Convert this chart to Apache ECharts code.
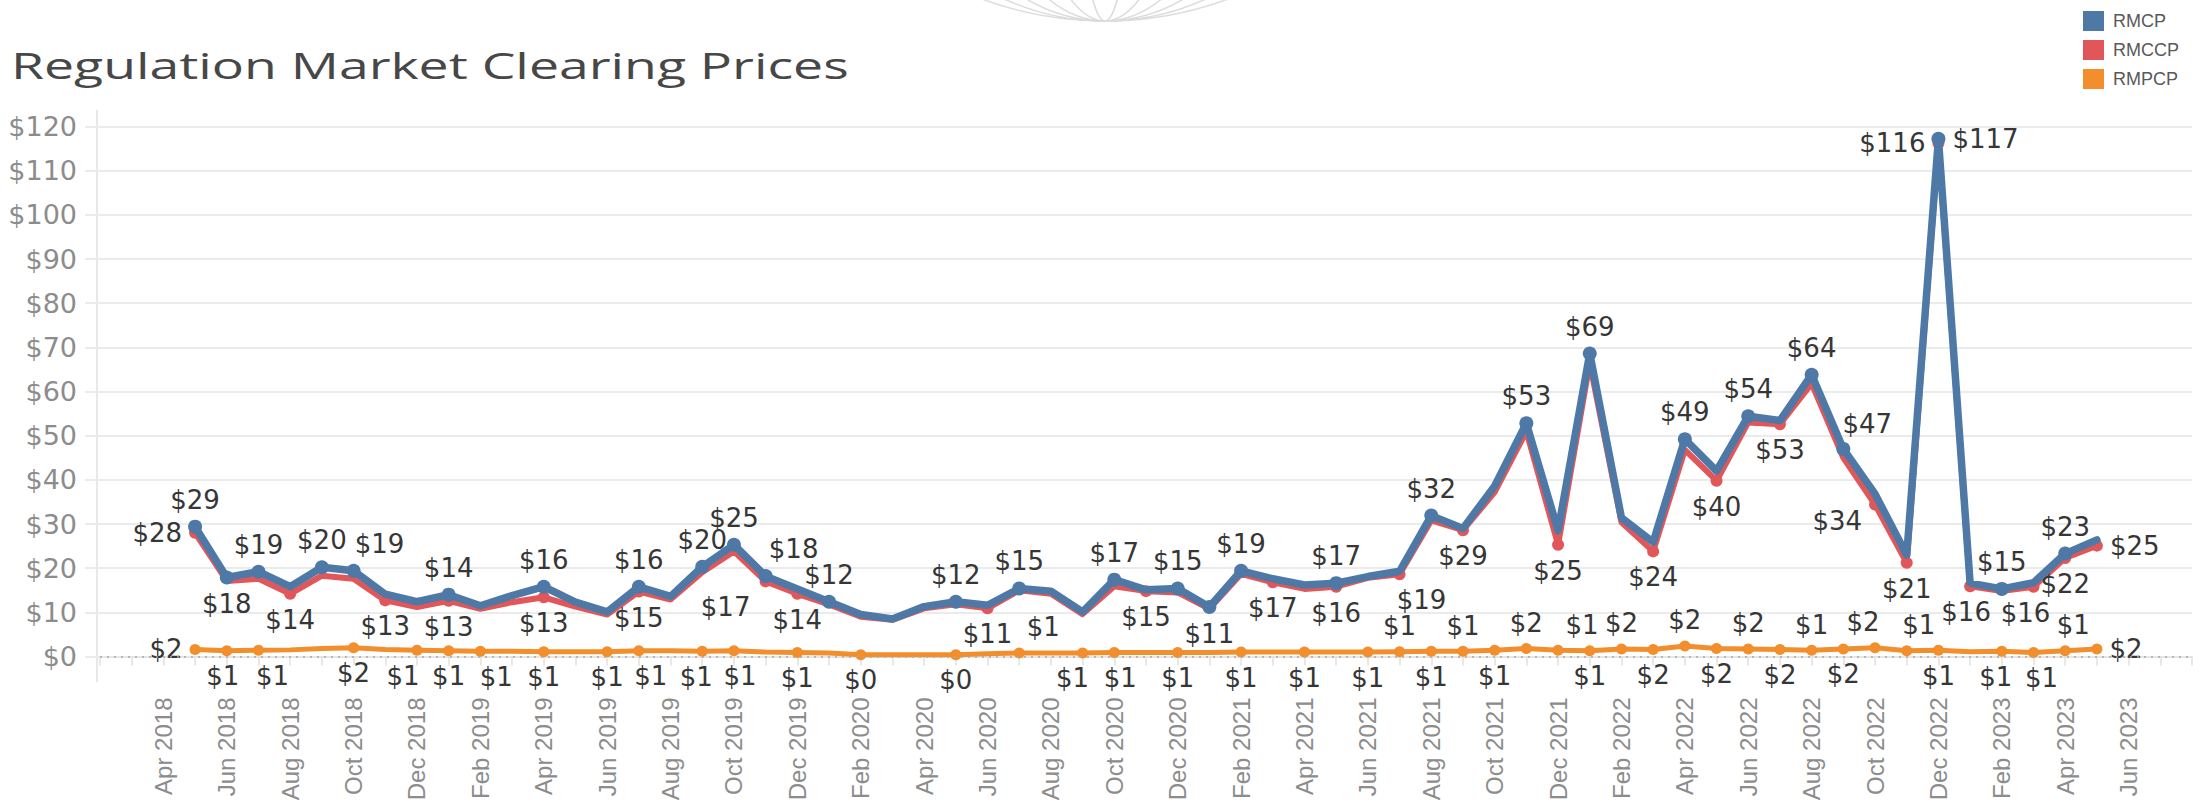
<!DOCTYPE html>
<html>
<head>
<meta charset="utf-8">
<script src="https://cdn.jsdelivr.net/npm/echarts@6.0.0/dist/echarts.min.js"></script>
<style>
html,body{margin:0;padding:0;background:#fff;}
#c{width:2208px;height:805px;}
</style>
</head>
<body>
<div id="c"></div>
<script>
// ---------- DATA ----------
const titleText = 'Regulation Market Clearing Prices';
const seriesNames = ['RMCP', 'RMCCP', 'RMPCP'];

// axis months (continuous monthly axis)
const axisMonths = [
  'Feb 2018','Mar 2018','Apr 2018','May 2018','Jun 2018','Jul 2018','Aug 2018','Sep 2018','Oct 2018','Nov 2018','Dec 2018',
  'Jan 2019','Feb 2019','Mar 2019','Apr 2019','May 2019','Jun 2019','Jul 2019','Aug 2019','Sep 2019','Oct 2019','Nov 2019','Dec 2019',
  'Jan 2020','Feb 2020','Mar 2020','Apr 2020','May 2020','Jun 2020','Jul 2020','Aug 2020','Sep 2020','Oct 2020','Nov 2020','Dec 2020',
  'Jan 2021','Feb 2021','Mar 2021','Apr 2021','May 2021','Jun 2021','Jul 2021','Aug 2021','Sep 2021','Oct 2021','Nov 2021','Dec 2021',
  'Jan 2022','Feb 2022','Mar 2022','Apr 2022','May 2022','Jun 2022','Jul 2022','Aug 2022','Sep 2022','Oct 2022','Nov 2022','Dec 2022',
  'Jan 2023','Feb 2023','Mar 2023','Apr 2023','May 2023','Jun 2023','Jul 2023','Aug 2023'
];
// tick labels shown on the x axis
const xTickLabels = [
  'Apr 2018','Jun 2018','Aug 2018','Oct 2018','Dec 2018','Feb 2019','Apr 2019','Jun 2019','Aug 2019','Oct 2019','Dec 2019',
  'Feb 2020','Apr 2020','Jun 2020','Aug 2020','Oct 2020','Dec 2020','Feb 2021','Apr 2021','Jun 2021','Aug 2021','Oct 2021','Dec 2021',
  'Feb 2022','Apr 2022','Jun 2022','Aug 2022','Oct 2022','Dec 2022','Feb 2023','Apr 2023','Jun 2023'
];
// first month of the data (values run monthly May 2018 .. May 2023)
const dataStart = 'May 2018';

const rmcp = [
  29.4, 17.9, 19.2, 15.8, 20.2, 19.4, 14.1, 12.4,
  14.0, 11.5, 13.8, 15.8, 12.3, 10.1, 15.8, 13.6, 20.3, 25.3, 18.2, 15.3,
  12.4, 9.5, 8.5, 11.3, 12.4, 11.6, 15.4, 14.8, 10.1, 17.4, 15.1, 15.4,
  11.2, 19.4, 17.6, 16.2, 16.6, 18.1, 19.3, 31.9, 29.0, 38.6, 52.8, 28.5,
  68.6, 31.4, 25.9, 49.2, 42.0, 54.4, 53.4, 63.8, 47.0, 36.8, 23.0, 117.2,
  16.6, 15.3, 16.7, 23.3, 26.4
];
const rmccp = [
  28.0, 17.1, 17.6, 14.2, 18.3, 17.6, 12.7, 11.2,
  12.6, 10.8, 12.3, 13.4, 11.3, 9.5, 14.7, 12.9, 19.1, 23.8, 17.0, 14.2,
  11.8, 9.0, 8.3, 10.9, 11.8, 10.9, 15.0, 14.2, 9.6, 15.9, 14.8, 14.5,
  10.8, 18.7, 16.8, 15.3, 15.8, 17.8, 18.6, 30.8, 28.6, 37.2, 51.0, 25.3,
  66.5, 30.4, 23.8, 46.8, 39.8, 53.0, 52.6, 61.8, 45.0, 34.4, 21.2, 116.2,
  15.9, 14.8, 15.8, 22.3, 25.1
];
const rmpcp = [
  1.6, 1.3, 1.4, 1.5, 1.8, 2.0, 1.6, 1.4,
  1.3, 1.2, 1.2, 1.1, 1.1, 1.1, 1.3, 1.3, 1.2, 1.3, 1.0, 0.9,
  0.8, 0.4, 0.4, 0.4, 0.4, 0.6, 0.8, 0.8, 0.8, 0.9, 0.9, 0.9,
  0.9, 1.0, 1.0, 1.0, 1.0, 1.0, 1.1, 1.2, 1.2, 1.4, 1.8, 1.4,
  1.3, 1.7, 1.6, 2.4, 1.8, 1.7, 1.6, 1.4, 1.7, 2.0, 1.3, 1.4,
  1.1, 1.2, 0.9, 1.3, 1.7
];

// ---------- LABEL PLACEMENT (style) ----------
const rmcpLabels = {
  'May 2018':'top','Jun 2018':'bottom','Jul 2018':'top','Sep 2018':'top','Oct 2018':'top',
  'Jan 2019':'top','Apr 2019':'top','Jul 2019':'top','Sep 2019':'top','Oct 2019':'top','Nov 2019':'top',
  'Jan 2020':'top','May 2020':'top','Jul 2020':'top','Oct 2020':'top','Dec 2020':'top',
  'Jan 2021':'bottom','Feb 2021':'top','May 2021':'top','Aug 2021':'top','Nov 2021':'top',
  'Jan 2022':'top','Apr 2022':'top','Jun 2022':'top','Aug 2022':'top','Sep 2022':'top',
  'Dec 2022':'right','Feb 2023':'top','Apr 2023':'top'
};
const rmccpLabels = {
  'May 2018':'left','Aug 2018':'bottom','Nov 2018':'bottom','Jan 2019':'bottom','Apr 2019':'bottom',
  'Jul 2019':'bottom','Nov 2019':'bottom','Dec 2019':'bottom','Jun 2020':'bottom','Nov 2020':'bottom',
  'Mar 2021':'bottom','May 2021':'bottom','Jul 2021':'bottom','Sep 2021':'bottom','Dec 2021':'bottom',
  'Mar 2022':'bottom','May 2022':'bottom','Jul 2022':'bottom','Oct 2022':'left','Nov 2022':'bottom',
  'Dec 2022':'left','Jan 2023':'bottom','Mar 2023':'bottom','Apr 2023':'bottom','May 2023':'right'
};
const rmpcpLabels = {
  'May 2018':'left','Jun 2018':'bottom','Jul 2018':'bottom','Oct 2018':'bottom','Dec 2018':'bottom',
  'Jan 2019':'bottom','Feb 2019':'bottom','Apr 2019':'bottom','Jun 2019':'bottom','Jul 2019':'bottom',
  'Sep 2019':'bottom','Oct 2019':'bottom','Dec 2019':'bottom',
  'Feb 2020':'bottom','May 2020':'bottom','Jul 2020':'top','Sep 2020':'bottom','Oct 2020':'bottom','Dec 2020':'bottom',
  'Feb 2021':'bottom','Apr 2021':'bottom','Jun 2021':'bottom','Jul 2021':'top','Aug 2021':'bottom','Sep 2021':'top',
  'Oct 2021':'bottom','Nov 2021':'top','Dec 2021':'top',
  'Jan 2022':'bottom','Feb 2022':'top','Mar 2022':'bottom','Apr 2022':'top','May 2022':'bottom','Jun 2022':'top',
  'Jul 2022':'bottom','Aug 2022':'top','Sep 2022':'bottom','Oct 2022':'top','Nov 2022':'top','Dec 2022':'bottom',
  'Feb 2023':'bottom','Mar 2023':'bottom','Apr 2023':'top','May 2023':'right'
};
const labelOffsets = {
  'RMCP|Oct 2018': [26, 0], 'RMCP|Nov 2019': [28, 0], 'RMCP|Sep 2022': [24, 2],
  'RMCCP|Nov 2019': [-40, 0], 'RMCCP|Jul 2021': [22, 0], 'RMCCP|Oct 2022': [0, 16],
  'RMCCP|Jan 2023': [-4, 0], 'RMCCP|Mar 2023': [-8, 0],
  'RMPCP|Jun 2018': [-4, 0], 'RMPCP|Jul 2018': [14, 0], 'RMPCP|Dec 2018': [-14, 0], 'RMPCP|Feb 2019': [16, 0],
  'RMPCP|Jul 2019': [12, 0], 'RMPCP|Sep 2019': [-6, 0], 'RMPCP|Oct 2019': [6, 0],
  'RMPCP|Jul 2020': [24, 0], 'RMPCP|Sep 2020': [-10, 0], 'RMPCP|Oct 2020': [6, 0],
  'RMPCP|Dec 2021': [24, 0], 'RMPCP|Oct 2022': [-12, 0], 'RMPCP|Nov 2022': [12, 0],
  'RMPCP|Feb 2023': [-6, 0], 'RMPCP|Mar 2023': [8, 0], 'RMPCP|Apr 2023': [8, 0]
};

// ---------- BUILD ----------
const startIdx = axisMonths.indexOf(dataStart);

function buildData(name, values, plan, symSize) {
  return axisMonths.map((m, i) => {
    const k = i - startIdx;
    if (k < 0 || k >= values.length) return null;
    const pos = plan[m];
    if (!pos) return { value: values[k], symbolSize: 0, label: { show: false } };
    const lab = { show: true, position: pos };
    const off = labelOffsets[name + '|' + m];
    if (off) lab.offset = off;
    return { value: values[k], symbolSize: symSize, label: lab };
  });
}

const labelFont = { fontFamily: 'DejaVu Sans', fontSize: 26, color: '#363636' };

function lineSeries(name, values, plan, color, width, symSize, z) {
  return {
    name: name,
    type: 'line',
    data: buildData(name, values, plan, symSize),
    z: z,
    symbol: 'circle',
    showSymbol: true,
    showAllSymbol: true,
    connectNulls: false,
    silent: true,
    lineStyle: { color: color, width: width, cap: 'round', join: 'round' },
    itemStyle: { color: color },
    label: Object.assign({ distance: 7, formatter: p => '$' + Math.round(p.value) }, labelFont),
    emphasis: { disabled: true }
  };
}

function textWidth(text, font) {
  const ctx = document.createElement('canvas').getContext('2d');
  ctx.font = font;
  return ctx.measureText(text).width;
}
const titleFont = '36px "Open Sans"';
const titleScale = 838 / textWidth(titleText, titleFont);

const splitColors = ['rgba(0,0,0,0)'];
for (let i = 0; i < 12; i++) splitColors.push('#ebebeb');

// faint decorative globe meridians at the top edge
const decor = [];
[1.0, 0.82, 0.64, 0.46, 0.28, 0.1].forEach(f => {
  decor.push({
    type: 'ellipse', silent: true, z: -1,
    shape: { cx: 1105, cy: -332, rx: 353 * f, ry: 353 },
    style: { fill: 'none', stroke: '#dcdcdc', lineWidth: 1.5 }
  });
});

const chart = echarts.init(document.getElementById('c'), null, { renderer: 'svg' });

const orange = lineSeries(seriesNames[2], rmpcp, rmpcpLabels, '#f28e2b', 5, 11, 3);
orange.markLine = {
  silent: true, symbol: ['none', 'none'], label: { show: false },
  lineStyle: { color: '#a8a8a8', width: 1.5, type: [2, 5] },
  data: [{ yAxis: 0 }]
};

chart.setOption({
  animation: false,
  backgroundColor: '#ffffff',
  grid: { left: 100, right: 16, top: 126.5, bottom: 148.5, containLabel: false },
  legend: {
    data: seriesNames,
    orient: 'vertical',
    left: 2078, top: 6,
    icon: 'rect',
    itemWidth: 21, itemHeight: 20, itemGap: 9,
    selectedMode: false,
    textStyle: { fontFamily: 'Liberation Sans', fontSize: 18, color: '#595959', padding: [0, 0, 0, 4] }
  },
  xAxis: {
    type: 'category',
    data: axisMonths,
    boundaryGap: false,
    offset: 25,
    axisLine: { show: true, lineStyle: { color: '#e6e6e6', width: 2 } },
    axisTick: { show: true, interval: 0, length: 9, lineStyle: { color: '#e0e0e0', width: 1.5 } },
    axisLabel: {
      interval: (i, v) => xTickLabels.indexOf(v) >= 0,
      rotate: 90, margin: 16,
      fontFamily: 'Liberation Sans', fontSize: 24, color: '#8c8c8c'
    },
    splitLine: { show: false }
  },
  yAxis: {
    type: 'value',
    min: 0, max: 120, interval: 10,
    axisLine: { show: false },
    axisTick: { show: true, length: 15, lineStyle: { color: '#ebebeb', width: 2 } },
    axisLabel: { formatter: v => '$' + v, fontFamily: 'DejaVu Sans', fontSize: 27, color: '#8c8c8c', margin: 23 },
    splitLine: { show: true, lineStyle: { color: splitColors, width: 2 } }
  },
  graphic: decor.concat([
    {
      type: 'text', x: 11, y: 47, scaleX: titleScale, scaleY: 1, silent: true,
      style: { text: titleText, font: titleFont, fill: '#474747', verticalAlign: 'top', align: 'left' }
    },
    {
      type: 'line', silent: true,
      shape: { x1: 97, y1: 110, x2: 97, y2: 682 },
      style: { stroke: '#e8e8e8', lineWidth: 2 }
    }
  ]),
  series: [
    orange,
    lineSeries(seriesNames[1], rmccp, rmccpLabels, '#e15759', 6, 12, 4),
    lineSeries(seriesNames[0], rmcp, rmcpLabels, '#4e79a7', 7.5, 14, 5)
  ]
});
</script>
</body>
</html>
